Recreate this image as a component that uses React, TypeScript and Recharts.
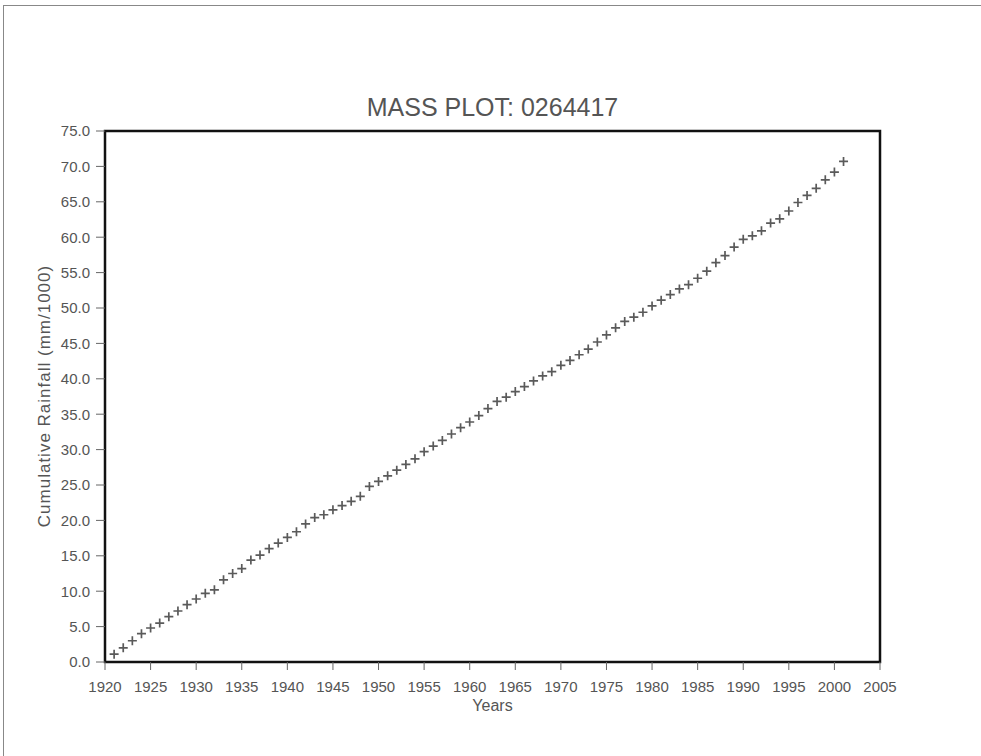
import React from "react";
import {
  ScatterChart,
  Scatter,
  XAxis,
  YAxis,
  ReferenceArea,
} from "recharts";

// station 0264417, cumulative rainfall by year
const years = [
  1921, 1922, 1923, 1924, 1925, 1926, 1927, 1928, 1929, 1930,
  1931, 1932, 1933, 1934, 1935, 1936, 1937, 1938, 1939, 1940,
  1941, 1942, 1943, 1944, 1945, 1946, 1947, 1948, 1949, 1950,
  1951, 1952, 1953, 1954, 1955, 1956, 1957, 1958, 1959, 1960,
  1961, 1962, 1963, 1964, 1965, 1966, 1967, 1968, 1969, 1970,
  1971, 1972, 1973, 1974, 1975, 1976, 1977, 1978, 1979, 1980,
  1981, 1982, 1983, 1984, 1985, 1986, 1987, 1988, 1989, 1990,
  1991, 1992, 1993, 1994, 1995, 1996, 1997, 1998, 1999, 2000,
  2001,
];

const cumulative = [
  1.1, 2.0, 3.0, 4.0, 4.8, 5.5, 6.4, 7.2, 8.1, 8.9,
  9.7, 10.2, 11.6, 12.5, 13.2, 14.4, 15.1, 16.0, 16.8, 17.6,
  18.4, 19.5, 20.4, 20.8, 21.5, 22.1, 22.7, 23.4, 24.8, 25.5,
  26.3, 27.1, 27.9, 28.7, 29.7, 30.5, 31.3, 32.2, 33.1, 33.9,
  34.8, 35.8, 36.8, 37.4, 38.2, 38.9, 39.7, 40.4, 41.0, 41.9,
  42.6, 43.4, 44.2, 45.2, 46.2, 47.2, 48.1, 48.7, 49.4, 50.3,
  51.1, 51.9, 52.7, 53.3, 54.2, 55.2, 56.4, 57.4, 58.6, 59.7,
  60.2, 60.9, 62.0, 62.6, 63.7, 64.9, 65.9, 66.9, 68.1, 69.2,
  70.7,
];

const xTicks = [
  1920, 1925, 1930, 1935, 1940, 1945, 1950, 1955, 1960,
  1965, 1970, 1975, 1980, 1985, 1990, 1995, 2000, 2005,
];
const yTicks = [0, 5, 10, 15, 20, 25, 30, 35, 40, 45, 50, 55, 60, 65, 70, 75];

const FONT = "'Liberation Sans', Arial, sans-serif";
const TEXT = "#555";

// little "+" marker like the old plotting package used
function Cross(props: any) {
  const { cx, cy } = props;
  if (cx == null || cy == null) return null;
  const r = 4.5;
  return (
    <path
      d={`M${cx - r},${cy}H${cx + r}M${cx},${cy - r}V${cy + r}`}
      stroke="#5a5a5a"
      strokeWidth={1.7}
      fill="none"
    />
  );
}

export default function App() {
  const data = years.map((y, i) => ({ year: y, value: cumulative[i] }));

  return (
    <div
      style={{
        position: "absolute",
        left: 0,
        top: 0,
        width: 981,
        height: 756,
        background: "#fff",
        fontFamily: FONT,
        overflow: "hidden",
      }}
    >
      {/* frame of the original figure, cut off at right / bottom */}
      <div
        style={{
          position: "absolute",
          left: 3,
          top: 5,
          width: 978,
          height: 751,
          borderTop: "1px solid #888",
          borderLeft: "1px solid #888",
          boxSizing: "border-box",
        }}
      />
      <div
        style={{
          position: "absolute",
          left: 105,
          width: 775,
          top: 93,
          textAlign: "center",
          fontSize: 25,
          color: TEXT,
          lineHeight: "28px",
        }}
      >
        MASS PLOT: 0264417
      </div>
      <div
        style={{
          position: "absolute",
          left: 105,
          width: 775,
          top: 696,
          textAlign: "center",
          fontSize: 16,
          color: TEXT,
          lineHeight: "20px",
        }}
      >
        Years
      </div>
      <div
        style={{
          position: "absolute",
          left: 45 - 150,
          top: 396 - 10,
          width: 300,
          height: 20,
          lineHeight: "20px",
          textAlign: "center",
          fontSize: 17,
          letterSpacing: 1,
          color: TEXT,
          transform: "rotate(-90deg)",
        }}
      >
        Cumulative Rainfall (mm/1000)
      </div>

      <ScatterChart
        width={981}
        height={756}
        margin={{ top: 131, right: 101, bottom: 44, left: 45 }}
      >
        <XAxis
          type="number"
          dataKey="year"
          domain={[1920, 2005]}
          ticks={xTicks}
          interval={0}
          height={50}
          axisLine={false}
          tickLine={{ stroke: "#666" }}
          tickSize={8}
          tickMargin={11}
          tick={{ fontSize: 15, fill: TEXT, fontFamily: FONT }}
        />
        <YAxis
          type="number"
          dataKey="value"
          domain={[0, 75]}
          ticks={yTicks}
          interval={0}
          width={60}
          axisLine={false}
          tickLine={{ stroke: "#666" }}
          tickSize={9}
          tickMargin={6}
          tickFormatter={(v: number) => v.toFixed(1)}
          tick={{ fontSize: 15, fill: TEXT, fontFamily: FONT }}
        />
        <ReferenceArea
          x1={1920}
          x2={2005}
          y1={0}
          y2={75}
          fill="none"
          fillOpacity={0}
          stroke="#111"
          strokeWidth={2.5}
          ifOverflow="visible"
        />
        <Scatter
          data={data}
          shape={<Cross />}
          isAnimationActive={false}
        />
      </ScatterChart>
    </div>
  );
}
